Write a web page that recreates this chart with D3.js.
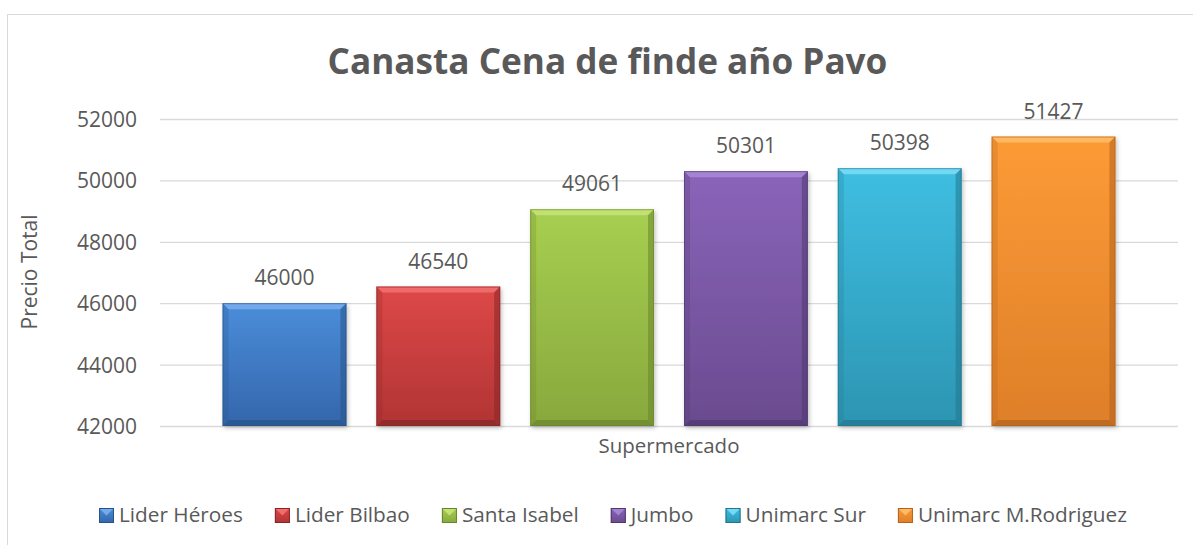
<!DOCTYPE html>
<html>
<head>
<meta charset="utf-8">
<script src="https://cdn.jsdelivr.net/npm/d3@7"></script>
<style>
  html, body { margin: 0; padding: 0; background: #fff; }
  svg { display: block; }
  text { font-family: "Open Sans", "Noto Sans", sans-serif; fill: #595959; }
</style>
</head>
<body>
<svg id="chart" width="1193" height="545"></svg>
<script>
// ---- data ----
const categories = ["Lider Héroes", "Lider Bilbao", "Santa Isabel", "Jumbo", "Unimarc Sur", "Unimarc M.Rodriguez"];
const values = [46000, 46540, 49061, 50301, 50398, 51427];
const yTicks = [42000, 44000, 46000, 48000, 50000, 52000];
const titleText = "Canasta Cena de finde año Pavo";
const yAxisTitle = "Precio Total";
const xAxisTitle = "Supermercado";
// colours: [top, bottom, highlight, dark edge]
const palette = [
  ["#4B8DDA", "#3466AB", "#7AAEEE", "#285389"],
  ["#DE4848", "#B13434", "#F27272", "#862626"],
  ["#A7CF50", "#88A83D", "#C6E47A", "#6A852C"],
  ["#8A64BA", "#6A4B8F", "#A78AD3", "#4F386D"],
  ["#3FBEE2", "#2C95B2", "#7CDDF7", "#22768D"],
  ["#FC9B36", "#DE7F29", "#FFBE6A", "#B2631D"]
];

const svg = d3.select("#chart");
const W = 1193, H = 545;
const plot = { left: 160, right: 1178, top: 119, bottom: 426 };

// chart frame
svg.append("rect").attr("x", 7.5).attr("y", 14.5).attr("width", 1300).attr("height", 700)
  .attr("fill", "#fff").attr("stroke", "#D9D9D9").attr("stroke-width", 1);

function fitWidth(sel, target) {
  const w = sel.node().getComputedTextLength();
  const fs = parseFloat(sel.attr("font-size"));
  sel.attr("font-size", (fs * target / w).toFixed(2));
}

// scales
const y = d3.scaleLinear().domain([42000, 52000]).range([plot.bottom, plot.top]);
const x = d3.scaleBand().domain(categories).range([plot.left, plot.right])
  .paddingInner(0.195).paddingOuter(0.407);

// gridlines + tick labels via axis
const yAxis = d3.axisLeft(y).tickValues(yTicks).tickSize(-(plot.right - plot.left)).tickFormat(d3.format("d")).tickPadding(23);
const gy = svg.append("g").attr("transform", `translate(${plot.left},0)`).call(yAxis);
gy.select(".domain").remove();
gy.selectAll(".tick line").attr("stroke", "#D9D9D9").attr("stroke-width", 1.3);
gy.selectAll(".tick text").attr("font-size", 21).attr("fill", "#595959")
  .attr("font-family", "'Open Sans', sans-serif").attr("dy", "0.36em");

// defs: gradients
const defs = svg.append("defs");
palette.forEach((c, i) => {
  const g = defs.append("linearGradient").attr("id", "grad" + i).attr("x1", 0).attr("y1", 0).attr("x2", 0).attr("y2", 1);
  g.append("stop").attr("offset", "0%").attr("stop-color", c[0]);
  g.append("stop").attr("offset", "100%").attr("stop-color", c[1]);
});
const sh = defs.append("filter").attr("id", "shadow").attr("x", "-10%").attr("y", "-10%").attr("width", "130%").attr("height", "130%");
sh.append("feDropShadow").attr("dx", 1.5).attr("dy", 2).attr("stdDeviation", 2).attr("flood-color", "#000").attr("flood-opacity", 0.25);

// bars
const b = 6;
const bars = svg.append("g").selectAll("g").data(categories).join("g");
bars.each(function(d, i) {
  const g = d3.select(this);
  const x0 = x(d), x1 = x(d) + x.bandwidth();
  const y0 = y(values[i]), y1 = y(42000);
  const c = palette[i];
  g.append("rect").attr("x", x0).attr("y", y0).attr("width", x1 - x0).attr("height", y1 - y0)
    .attr("fill", `url(#grad${i})`).attr("filter", "url(#shadow)");
  // top bevel
  g.append("path").attr("d", `M${x0},${y0}L${x1},${y0}L${x1 - b},${y0 + b}L${x0 + b},${y0 + b}Z`)
    .attr("fill", c[2]).attr("opacity", 0.85);
  // left bevel
  g.append("path").attr("d", `M${x0},${y0}L${x0 + b},${y0 + b}L${x0 + b},${y1 - b}L${x0},${y1}Z`)
    .attr("fill", c[3]).attr("opacity", 0.25);
  // right bevel
  g.append("path").attr("d", `M${x1},${y0}L${x1 - b},${y0 + b}L${x1 - b},${y1 - b}L${x1},${y1}Z`)
    .attr("fill", c[3]).attr("opacity", 0.55);
  // bottom bevel
  g.append("path").attr("d", `M${x0},${y1}L${x0 + b},${y1 - b}L${x1 - b},${y1 - b}L${x1},${y1}Z`)
    .attr("fill", c[3]).attr("opacity", 0.7);
  g.append("rect").attr("x", x0 + 0.5).attr("y", y0 + 0.5).attr("width", x1 - x0 - 1).attr("height", y1 - y0 - 1)
    .attr("fill", "none").attr("stroke", c[3]).attr("stroke-opacity", 0.6).attr("stroke-width", 1);
  // data label
  g.append("text").attr("x", (x0 + x1) / 2).attr("y", y0 - 18).attr("text-anchor", "middle")
    .attr("font-size", 21).text(d3.format("d")(values[i]));
});

// title
const t = svg.append("text").attr("x", 607.5).attr("y", 74).attr("text-anchor", "middle")
  .attr("font-weight", "bold").attr("font-size", 36).text(titleText);
fitWidth(t, 560);

// axis titles
const yt = svg.append("text").attr("transform", "translate(37,272) rotate(-90)").attr("text-anchor", "middle")
  .attr("font-size", 18).text(yAxisTitle);
fitWidth(yt, 115);
const xt = svg.append("text").attr("x", (plot.left + plot.right) / 2).attr("y", 453).attr("text-anchor", "middle")
  .attr("font-size", 21).text(xAxisTitle);
fitWidth(xt, 141);

// legend
const lg = svg.append("g");
const items = lg.selectAll("g").data(categories).join("g");
items.append("text").attr("y", 522).attr("font-size", 20).text(d => d);
const sq = 15, gapT = 5, gapI = 32;
const widths = [];
items.select("text").each(function() { widths.push(this.getComputedTextLength()); });
const totalNat = d3.sum(widths) + categories.length * (sq + gapT) + (categories.length - 1) * gapI;
const target = 1127 - 99;
// scale font so that total matches target
const textTarget = target - categories.length * (sq + gapT) - (categories.length - 1) * gapI;
const k = textTarget / d3.sum(widths);
items.select("text").attr("font-size", (20 * k).toFixed(2));
let cx = 99;
items.each(function(d, i) {
  const g = d3.select(this);
  const c = palette[i];
  g.append("rect").attr("x", cx).attr("y", 508).attr("width", sq).attr("height", sq).attr("fill", `url(#grad${i})`);
  g.append("path").attr("d", `M${cx},508L${cx + sq},508L${cx + sq / 2},${508 + sq / 2}Z`).attr("fill", c[2]).attr("opacity", 0.9);
  g.append("rect").attr("x", cx + 0.5).attr("y", 508.5).attr("width", sq - 1).attr("height", sq - 1)
    .attr("fill", "none").attr("stroke", c[3]).attr("stroke-width", 1);
  g.select("text").attr("x", cx + sq + gapT);
  cx += sq + gapT + widths[i] * k + gapI;
});
</script>
</body>
</html>
